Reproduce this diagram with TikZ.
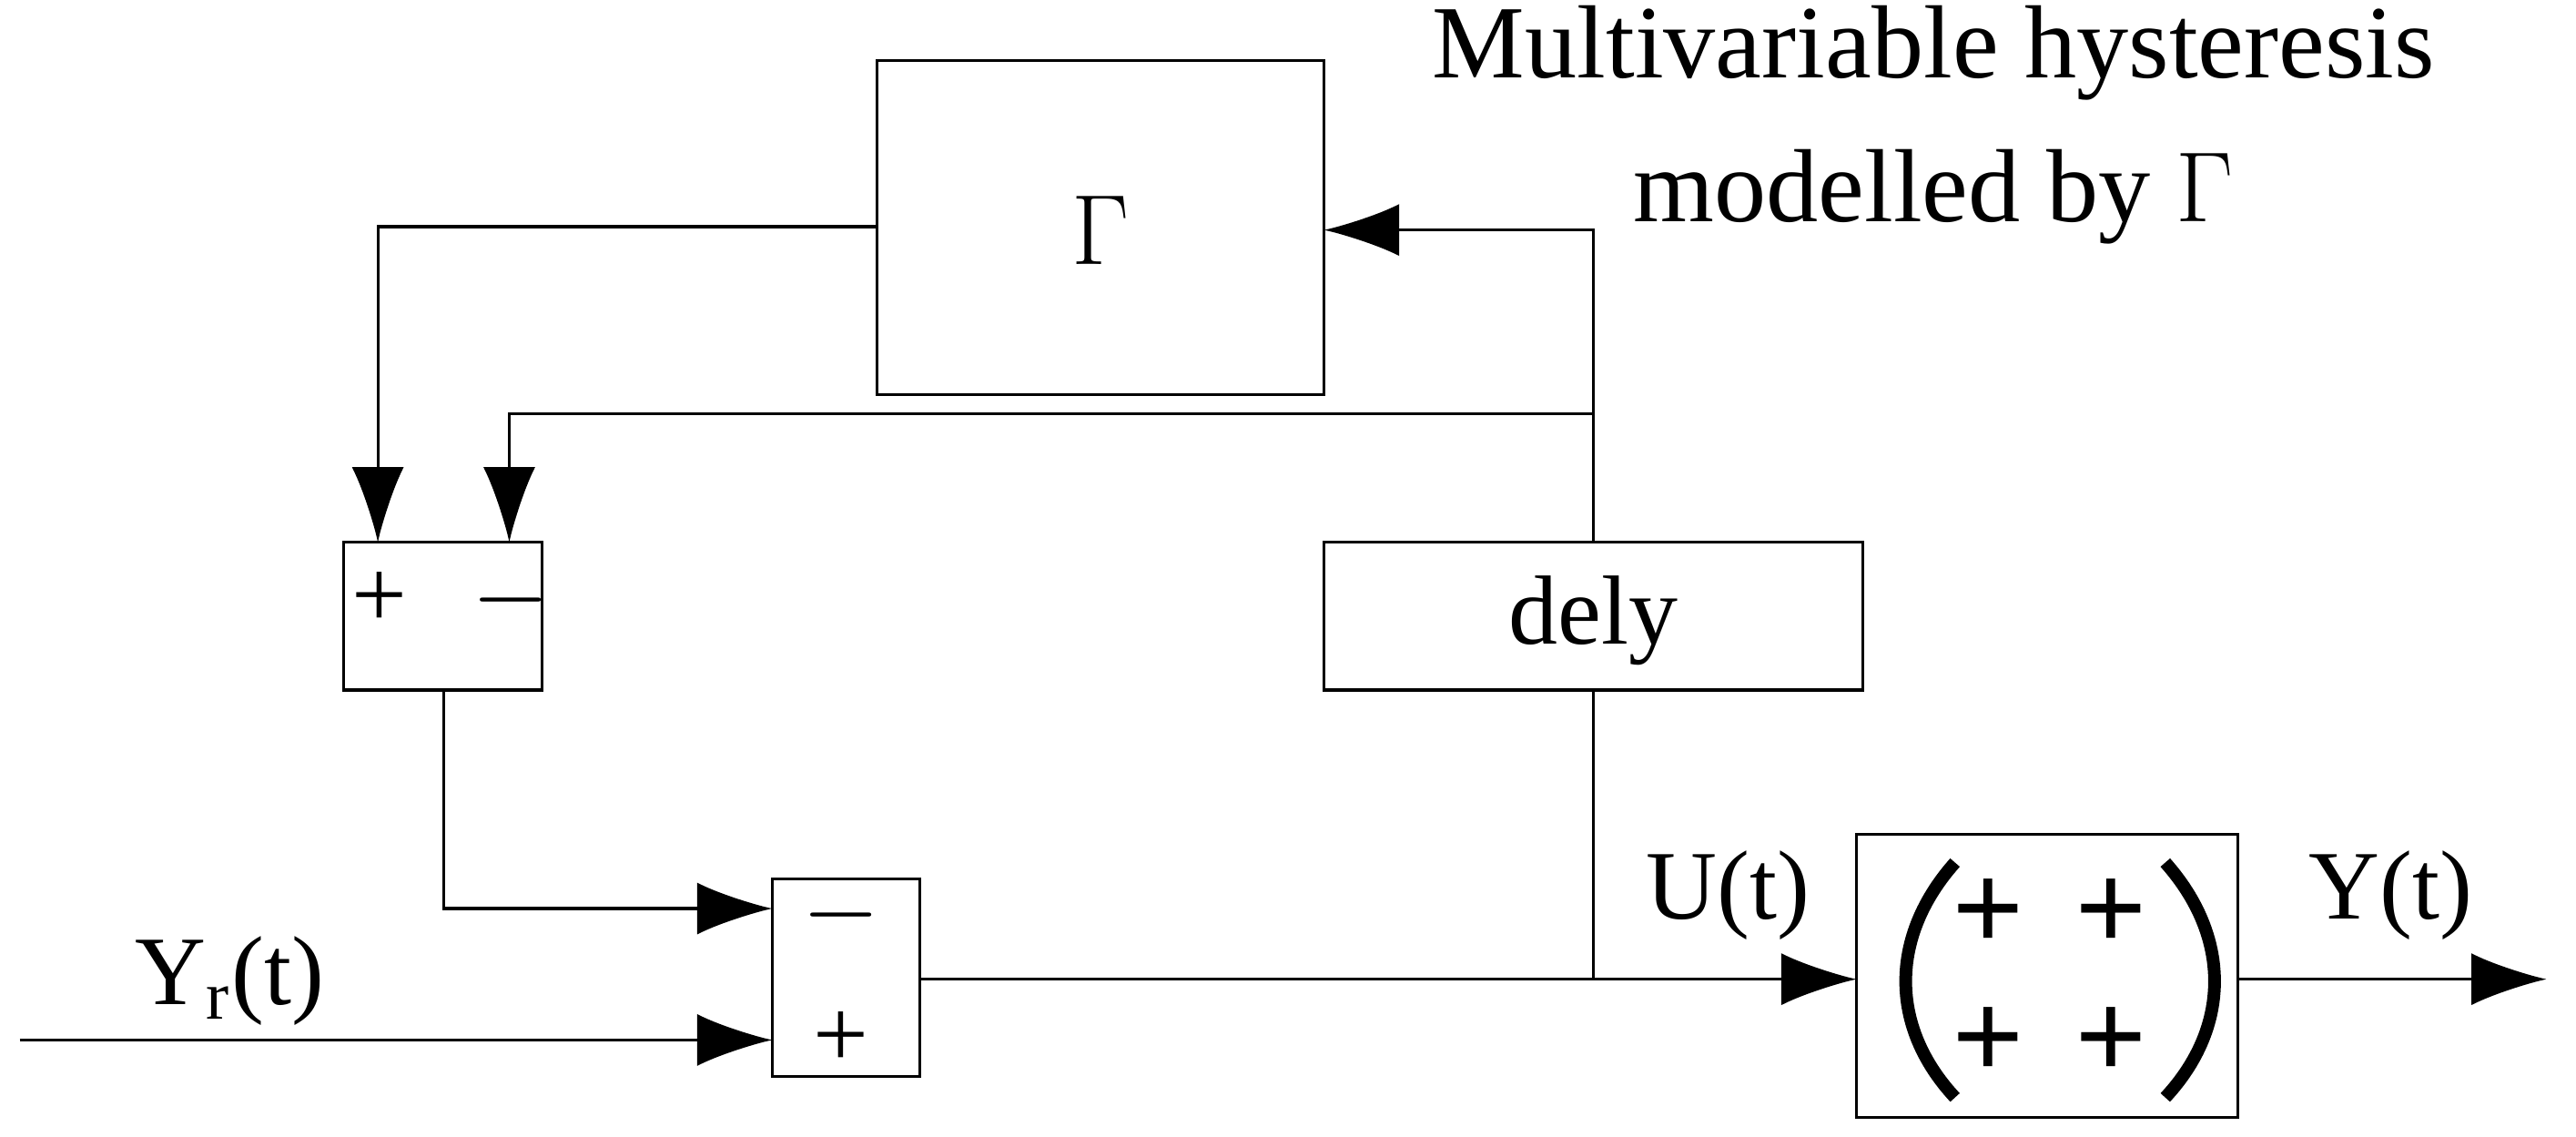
\documentclass[tikz,border=0pt]{standalone}
\usepackage{amsmath}
\usepackage{fontspec}
\setmainfont{Liberation Serif}
\usetikzlibrary{arrows.meta}
\begin{document}
\begin{tikzpicture}[x=0.01cm,y=-0.01cm,
  ln/.style={line width=0.5pt},
  arr/.style={ln,-{Latex[length=13pt,width=9pt]}},
  paren/.style={line width=2.2pt},
  lbl/.style={font=\fontsize{17}{20}\selectfont,inner sep=0pt},
  bplus/.style={font=\fontsize{22}{22}\selectfont\bfseries,inner sep=0pt}]
\useasboundingbox (0,0) rectangle (1568,692);
\draw[ln] (534,37) rectangle (806,240);
\node[lbl] (Gl) at (670,140) {$\Gamma$};
\draw[ln] (209,330) rectangle (330,420);
\node[lbl] (p1) at (231,365) {+};
\node[lbl] (m1) at (311,365) {$-$};
\draw[ln] (470,535) rectangle (560,655);
\node[lbl] (m2) at (512,557) {$-$};
\node[lbl] (p2) at (512,633) {+};
\draw[ln] (806,330) rectangle (1134,420);
\node[lbl] (d) at (970,378) {dely};
\draw[ln] (1130,508) rectangle (1362,680);
\node[bplus] (q1) at (1210,557) {+};
\node[bplus] (q2) at (1285,557) {+};
\node[bplus] (q3) at (1210,635) {+};
\node[bplus] (q4) at (1285,635) {+};
\draw[paren] (1190,525) .. controls (1150,570) and (1150,625) .. (1190,668);
\draw[paren] (1318,525) .. controls (1358,570) and (1358,625) .. (1318,668);
\coordinate (a1) at (970,420);
\coordinate (a2) at (970,330);
\coordinate (j) at (970,596);
\draw[arr] (a2) -- (970,140) -- (806,140);
\draw[arr] (970,252) -- (310,252) -- (310,330);
\draw[arr] (534,138) -- (230,138) -- (230,330);
\draw[arr] (270,420) -- (270,553) -- (470,553);
\draw[arr] (12,633) -- (470,633);
\draw[arr] (560,596) -- (1130,596);
\draw[ln] (a1) -- (j);
\draw[arr] (1362,596) -- (1550,596);
\node[lbl] (yr) at (140,597) {Y\textsubscript{r}(t)};
\node[lbl] (u) at (1052,545) {U(t)};
\node[lbl] (y) at (1455,545) {Y(t)};
\node[lbl,font=\fontsize{18}{20}\selectfont,align=center] (t) at (1177,76) {Multivariable hysteresis\\[5pt]modelled by $\Gamma$};
\end{tikzpicture}
\end{document}
